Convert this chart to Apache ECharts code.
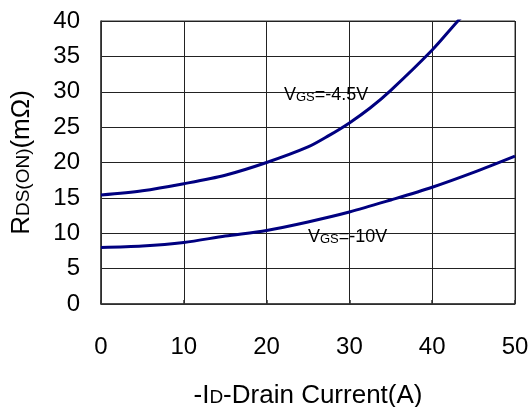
<!DOCTYPE html>
<html><head><meta charset="utf-8">
<script src="https://cdn.jsdelivr.net/npm/echarts@6/dist/echarts.min.js"></script>
<style>html,body{margin:0;padding:0;background:#fff}#c{width:532px;height:407px}</style>
</head><body><div id="c"></div>
<script>
const xTicks = [0, 10, 20, 30, 40, 50];
const yTicks = [0, 5, 10, 15, 20, 25, 30, 35, 40];
const idVgs45 = [0, 5, 10, 15, 20, 25, 27.5, 30, 32.5, 35, 40, 43.1, 45];
const rdsVgs45 = [15.4, 16.0, 17.0, 18.2, 20.0, 22.2, 23.8, 25.6, 27.7, 30.2, 35.9, 40.0, 42.3];
const idVgs10 = [0, 5, 10, 15, 20, 25, 30, 35, 40, 45, 50];
const rdsVgs10 = [8.0, 8.2, 8.7, 9.6, 10.4, 11.6, 13.0, 14.7, 16.5, 18.6, 20.9];
const labels = [
  {v: '-4.5V', x: 22.1, y: 29.6},
  {v: '-10V', x: 25.0, y: 9.5}
];

const font = 'Liberation Sans, Arial, sans-serif';
const chart = echarts.init(document.getElementById('c'));
const pair = (xs, ys) => xs.map((x, i) => [x, ys[i]]);
const rich = {
  big: {fontSize: 18, fontFamily: font, color: '#000'},
  sm: {fontSize: 13, fontFamily: font, color: '#000', padding: [5, 0, 0, 0]}
};
const titleRich = {
  a: {fontSize: 26, fontFamily: font, color: '#000'},
  b: {fontSize: 19, fontFamily: font, color: '#000', padding: [4, 0, 0, 0]}
};
chart.setOption({
  animation: false,
  grid: {left: 101, right: 17, top: 21, bottom: 103, containLabel: false, outerBoundsMode: 'none',
         show: true, borderColor: '#333', borderWidth: 1},
  xAxis: {
    type: 'value', min: xTicks[0], max: xTicks[xTicks.length - 1], interval: 10,
    axisLine: {lineStyle: {color: '#333', width: 1.5}},
    axisTick: {show: true, inside: true, length: 4, lineStyle: {color: '#333', width: 1.5}},
    splitLine: {show: true, lineStyle: {color: '#222', width: 1}},
    axisLabel: {fontSize: 24, fontFamily: font, color: '#000', margin: 31},
    name: '{a|-I}{b|D}{a|-Drain Current(A)}', nameLocation: 'middle', nameGap: 79,
    nameTextStyle: {rich: titleRich}
  },
  yAxis: {
    type: 'value', min: yTicks[0], max: yTicks[yTicks.length - 1], interval: 5,
    axisLine: {show: true, lineStyle: {color: '#333', width: 1.5}},
    axisTick: {show: false},
    splitLine: {show: true, lineStyle: {color: '#222', width: 1}},
    axisLabel: {fontSize: 24, fontFamily: font, color: '#000', margin: 21},
    name: '{a|R}{b|DS(ON)}{a|(mΩ)}', nameLocation: 'middle', nameGap: 66, nameRotate: 90,
    nameTextStyle: {rich: titleRich}
  },
  series: [
    {type: 'line', data: pair(idVgs45, rdsVgs45), smooth: 0.3, symbol: 'none', clip: true,
     lineStyle: {color: '#000080', width: 3},
     markPoint: {symbol: 'circle', symbolSize: 0, data: [{coord: [labels[0].x, labels[0].y]}],
       label: {show: true, position: 'right', distance: 0, formatter: '{big|V}{sm|GS}{big|=' + labels[0].v + '}', rich}}},
    {type: 'line', data: pair(idVgs10, rdsVgs10), smooth: 0.3, symbol: 'none', clip: true,
     lineStyle: {color: '#000080', width: 3},
     markPoint: {symbol: 'circle', symbolSize: 0, data: [{coord: [labels[1].x, labels[1].y]}],
       label: {show: true, position: 'right', distance: 0, formatter: '{big|V}{sm|GS}{big|=' + labels[1].v + '}', rich}}}
  ]
});
</script></body></html>
